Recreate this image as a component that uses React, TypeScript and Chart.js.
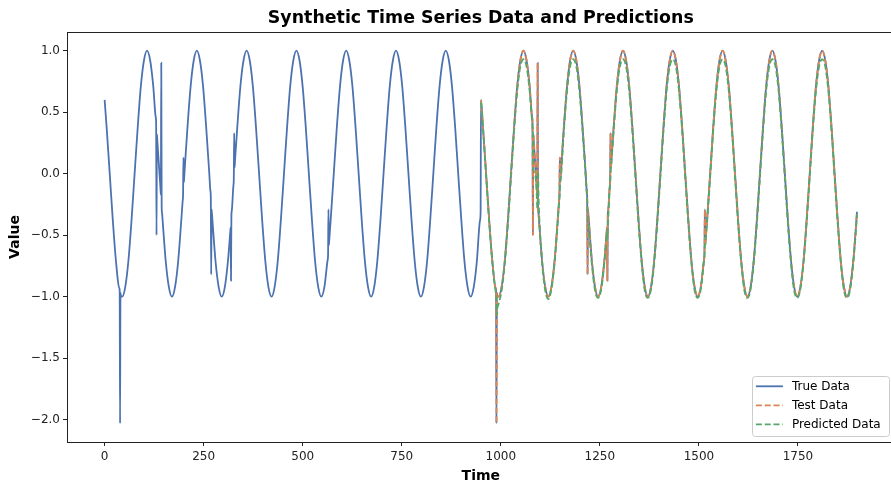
import React, { useEffect, useRef } from "react";
import { Chart, registerables } from "chart.js";

Chart.register(...registerables);

// ---- data ----
const chartTitle = "Synthetic Time Series Data and Predictions";
const xAxisLabel = "Time";
const yAxisLabel = "Value";
const seriesNames = ["True Data", "Test Data", "Predicted Data"];
const seriesColors = ["#4C72B0", "#DD8452", "#55A868"];
const xTickValues = [0, 250, 500, 750, 1000, 1250, 1500, 1750];
const yTickValues = [-2, -1.5, -1, -0.5, 0, 0.5, 1];

const trainTime = [
  0, 5.0, 12.9, 20.7, 28.6,
  37, 38, 39, 40, 41, 44.3,
  52.1, 60.0, 67.9, 75.7, 83.6, 91.4, 99.3, 107.1, 115.0, 122.8,
  129, 130, 131, 132, 133, 138.5,
  141, 142, 143, 144, 145, 146.4,
  154.2, 162.1, 170.0, 177.8, 185.7, 193.5,
  197, 198, 199, 200, 201,
  209.2, 217.1, 224.9, 232.8, 240.6, 248.5, 256.3, 264.2,
  267, 268, 269, 270, 271,
  279.9, 287.8, 295.6, 303.5, 311.3,
  317, 318, 319, 320, 321,
  325, 326, 327, 328, 329,
  334.9, 342.7, 350.6, 358.4, 366.3, 374.2, 382.0, 389.9,
  397.7, 405.6, 413.4, 421.3, 429.1, 437.0, 444.8, 452.7,
  460.6, 468.4, 476.3, 484.1, 492.0, 499.8, 507.7, 515.5,
  523.4, 531.2, 539.1, 546.9, 554.8,
  563, 564, 565, 566, 567, 570.5,
  578.4, 586.2, 594.1, 601.9, 609.8, 617.6, 625.5, 633.3,
  641.2, 649.0, 656.9, 664.8, 672.6, 680.5, 688.3, 696.2,
  704.0, 711.9, 719.7, 727.6, 735.4, 743.3, 751.2, 759.0,
  766.9, 774.7, 782.6, 790.4, 798.3, 806.1, 814.0, 821.8,
  829.7, 837.5, 845.4, 853.3, 861.1, 869.0, 876.8, 884.7,
  892.5, 900.4, 908.2, 916.1, 923.9, 931.8, 939.6, 947.5, 949,
];
const trainValue = [
  0.60, 0.38, 0.00, -0.38, -0.71,
  -0.93, -0.95, -2.03, -0.97, -0.99, -1.00,
  -0.92, -0.71, -0.38, 0.00, 0.38, 0.71, 0.92, 1.00, 0.92, 0.71,
  0.46, 0.41, -0.50, 0.32, 0.27, 0.00,
  -0.12, -0.17, 0.90, -0.27, -0.32, -0.38,
  -0.71, -0.92, -1.00, -0.92, -0.71, -0.38,
  -0.22, -0.17, 0.13, -0.07, -0.02,
  0.38, 0.71, 0.92, 1.00, 0.92, 0.71, 0.38, 0.00,
  -0.14, -0.19, -0.82, -0.29, -0.33,
  -0.71, -0.92, -1.00, -0.92, -0.71,
  -0.48, -0.44, -0.87, -0.34, -0.30,
  -0.10, -0.05, 0.33, 0.05, 0.10,
  0.38, 0.71, 0.92, 1.00, 0.92, 0.71, 0.38, 0.00,
  -0.38, -0.71, -0.92, -1.00, -0.92, -0.71, -0.38, 0.00,
  0.38, 0.71, 0.92, 1.00, 0.92, 0.71, 0.38, 0.00,
  -0.38, -0.71, -0.92, -1.00, -0.92,
  -0.70, -0.66, -0.29, -0.58, -0.54, -0.38,
  0.00, 0.38, 0.71, 0.92, 1.00, 0.92, 0.71, 0.38,
  0.00, -0.38, -0.71, -0.92, -1.00, -0.92, -0.71, -0.38,
  0.00, 0.38, 0.71, 0.92, 1.00, 0.92, 0.71, 0.38,
  0.00, -0.38, -0.71, -0.92, -1.00, -0.92, -0.71, -0.38,
  0.00, 0.38, 0.71, 0.92, 1.00, 0.92, 0.71, 0.38,
  0.00, -0.38, -0.71, -0.92, -1.00, -0.92, -0.71, -0.38, -0.31,
];

const testTime = [
  950, 955.0, 962.9, 970.7, 978.6,
  987, 988, 989, 990, 991, 994.3,
  1002.1, 1010.0, 1017.9, 1025.7, 1033.6, 1041.4, 1049.3, 1057.1, 1065.0, 1072.8,
  1079, 1080, 1081, 1082, 1083, 1088.5,
  1091, 1092, 1093, 1094, 1095, 1096.4,
  1104.2, 1112.1, 1120.0, 1127.8, 1135.7, 1143.5,
  1147, 1148, 1149, 1150, 1151,
  1159.2, 1167.1, 1174.9, 1182.8, 1190.6, 1198.5, 1206.3, 1214.2,
  1217, 1218, 1219, 1220, 1221,
  1229.9, 1237.8, 1245.6, 1253.5, 1261.3,
  1267, 1268, 1269, 1270, 1271,
  1275, 1276, 1277, 1278, 1279,
  1284.9, 1292.7, 1300.6, 1308.4, 1316.3, 1324.2, 1332.0, 1339.9,
  1347.7, 1355.6, 1363.4, 1371.3, 1379.1, 1387.0, 1394.8, 1402.7,
  1410.6, 1418.4, 1426.3, 1434.1, 1442.0, 1449.8, 1457.7, 1465.5,
  1473.4, 1481.2, 1489.1, 1496.9, 1504.8,
  1513, 1514, 1515, 1516, 1517, 1520.5,
  1528.4, 1536.2, 1544.1, 1551.9, 1559.8, 1567.6, 1575.5, 1583.3,
  1591.2, 1599.0, 1606.9, 1614.8, 1622.6, 1630.5, 1638.3, 1646.2,
  1654.0, 1661.9, 1669.7, 1677.6, 1685.4, 1693.3, 1701.2, 1709.0,
  1716.9, 1724.7, 1732.6, 1740.4, 1748.3, 1756.1, 1764.0, 1771.8,
  1779.7, 1787.5, 1795.4, 1803.3, 1811.1, 1819.0, 1826.8, 1834.7,
  1842.5, 1850.4, 1858.2, 1866.1, 1873.9, 1881.8, 1889.6, 1897.5, 1899,
];
const testValue = [
  0.60, 0.38, 0.00, -0.38, -0.71,
  -0.93, -0.95, -2.03, -0.97, -0.99, -1.00,
  -0.92, -0.71, -0.38, 0.00, 0.38, 0.71, 0.92, 1.00, 0.92, 0.71,
  0.46, 0.41, -0.50, 0.32, 0.27, 0.00,
  -0.12, -0.17, 0.90, -0.27, -0.32, -0.38,
  -0.71, -0.92, -1.00, -0.92, -0.71, -0.38,
  -0.22, -0.17, 0.13, -0.07, -0.02,
  0.38, 0.71, 0.92, 1.00, 0.92, 0.71, 0.38, 0.00,
  -0.14, -0.19, -0.82, -0.29, -0.33,
  -0.71, -0.92, -1.00, -0.92, -0.71,
  -0.48, -0.44, -0.87, -0.34, -0.30,
  -0.10, -0.05, 0.33, 0.05, 0.10,
  0.38, 0.71, 0.92, 1.00, 0.92, 0.71, 0.38, 0.00,
  -0.38, -0.71, -0.92, -1.00, -0.92, -0.71, -0.38, 0.00,
  0.38, 0.71, 0.92, 1.00, 0.92, 0.71, 0.38, 0.00,
  -0.38, -0.71, -0.92, -1.00, -0.92,
  -0.70, -0.66, -0.29, -0.58, -0.54, -0.38,
  0.00, 0.38, 0.71, 0.92, 1.00, 0.92, 0.71, 0.38,
  0.00, -0.38, -0.71, -0.92, -1.00, -0.92, -0.71, -0.38,
  0.00, 0.38, 0.71, 0.92, 1.00, 0.92, 0.71, 0.38,
  0.00, -0.38, -0.71, -0.92, -1.00, -0.92, -0.71, -0.38,
  0.00, 0.38, 0.71, 0.92, 1.00, 0.92, 0.71, 0.38,
  0.00, -0.38, -0.71, -0.92, -1.00, -0.92, -0.71, -0.38, -0.31,
];
const predictedValue = [
  0.58, 0.37, -0.02, -0.40, -0.72,
  -0.96, -0.98, -1.05, -1.15, -1.10, -1.06,
  -0.95, -0.73, -0.41, -0.03, 0.35, 0.67, 0.87, 0.93, 0.87, 0.67,
  0.42, 0.38, 0.30, 0.05, 0.02, -0.05,
  -0.20, -0.28, -0.20, 0.02, -0.15, -0.30,
  -0.72, -0.95, -1.02, -0.94, -0.73, -0.41,
  -0.24, -0.20, -0.15, -0.05, -0.04,
  0.35, 0.67, 0.87, 0.93, 0.87, 0.67, 0.35, -0.02,
  -0.17, -0.22, -0.28, -0.38, -0.41,
  -0.74, -0.95, -1.01, -0.94, -0.73,
  -0.52, -0.48, -0.52, -0.45, -0.38,
  -0.12, -0.08, -0.02, 0.05, 0.09,
  0.35, 0.67, 0.87, 0.93, 0.87, 0.67, 0.35, -0.03,
  -0.41, -0.73, -0.95, -1.01, -0.94, -0.73, -0.41, -0.03,
  0.35, 0.67, 0.87, 0.93, 0.87, 0.67, 0.35, -0.03,
  -0.41, -0.73, -0.95, -1.01, -0.94,
  -0.70, -0.66, -0.58, -0.55, -0.52, -0.40,
  -0.03, 0.35, 0.67, 0.87, 0.93, 0.87, 0.67, 0.35,
  -0.03, -0.41, -0.73, -0.95, -1.01, -0.94, -0.73, -0.41,
  -0.03, 0.35, 0.67, 0.87, 0.93, 0.87, 0.67, 0.35,
  -0.03, -0.41, -0.73, -0.95, -1.01, -0.94, -0.73, -0.41,
  -0.03, 0.35, 0.67, 0.87, 0.93, 0.87, 0.67, 0.35,
  -0.03, -0.41, -0.73, -0.95, -1.01, -0.94, -0.73, -0.41, -0.33,
];

const FONT = '"DejaVu Sans", sans-serif';
const DASH = [6, 2.8];

function toPoints(times: number[], values: number[]) {
  return times.map((t, i) => ({ x: t, y: values[i] }));
}

const decorPlugin = {
  id: "decor",
  afterDraw(chart: any) {
    const { ctx, chartArea: a } = chart;
    ctx.save();
    // spines
    ctx.strokeStyle = "#222";
    ctx.lineWidth = 1;
    const l = Math.round(a.left) + 0.5;
    const t = Math.round(a.top) + 0.5;
    ctx.strokeRect(l, t, Math.round(a.right) - Math.round(a.left), Math.round(a.bottom) - Math.round(a.top));
    // title and axis labels
    ctx.fillStyle = "#000";
    ctx.textAlign = "center";
    ctx.textBaseline = "middle";
    const cx = (a.left + a.right) / 2;
    ctx.font = `bold 17.4px ${FONT}`;
    ctx.fillText(chartTitle, cx, 18);
    ctx.font = `bold 14px ${FONT}`;
    ctx.fillText(xAxisLabel, cx, 476);
    ctx.save();
    ctx.translate(15, (a.top + a.bottom) / 2);
    ctx.rotate(-Math.PI / 2);
    ctx.fillText(yAxisLabel, 0, 0);
    ctx.restore();

    // legend (lower right, inside axes)
    const bw = 137;
    const bh = 60;
    const bx = a.right - 5.7 - bw;
    const by = a.bottom - 5.7 - bh;
    ctx.beginPath();
    ctx.roundRect(Math.round(bx) + 0.5, Math.round(by) + 0.5, bw, bh, 3);
    ctx.fillStyle = "rgba(255,255,255,0.8)";
    ctx.fill();
    ctx.strokeStyle = "#cccccc";
    ctx.lineWidth = 1;
    ctx.stroke();
    ctx.font = `12px ${FONT}`;
    ctx.textAlign = "left";
    ctx.textBaseline = "middle";
    seriesNames.forEach((name, i) => {
      const y = by + 10 + i * 19;
      ctx.beginPath();
      ctx.strokeStyle = seriesColors[i];
      ctx.lineWidth = 1.8;
      ctx.setLineDash(i === 0 ? [] : DASH);
      ctx.moveTo(bx + 4, y);
      ctx.lineTo(bx + 31, y);
      ctx.stroke();
      ctx.setLineDash([]);
      ctx.fillStyle = "#000";
      ctx.fillText(name, bx + 40, y + 0.5);
    });
    ctx.restore();
  },
};

export default function App() {
  const canvasRef = useRef<HTMLCanvasElement | null>(null);

  useEffect(() => {
    const canvas = canvasRef.current;
    if (!canvas) return;
    const allTime = [...trainTime, ...testTime];
    const allValue = [...trainValue, ...testValue];

    const common = {
      pointRadius: 0,
      borderWidth: 1.8,
      fill: false,
      tension: 0.4,
      cubicInterpolationMode: "monotone" as const,
    };

    const chart = new Chart(canvas, {
      type: "line",
      data: {
        datasets: [
          {
            ...common,
            label: seriesNames[0],
            data: toPoints(allTime, allValue),
            borderColor: seriesColors[0],
            order: 2,
          },
          {
            ...common,
            label: seriesNames[1],
            data: toPoints(testTime, testValue),
            borderColor: seriesColors[1],
            borderDash: DASH,
            order: 1,
          },
          {
            ...common,
            label: seriesNames[2],
            data: toPoints(testTime, predictedValue),
            borderColor: seriesColors[2],
            borderDash: DASH,
            order: 0,
          },
        ],
      },
      options: {
        responsive: false,
        animation: false,
        devicePixelRatio: 1,
        layout: { padding: { left: 0, top: 32, right: 5.4, bottom: 0 } },
        plugins: {
          legend: { display: false },
          tooltip: { enabled: false },
          title: { display: false },
        },
        scales: {
          x: {
            type: "linear",
            min: -94.95,
            max: 1993.95,
            afterFit: (s: any) => {
              s.height = 44;
            },
            afterBuildTicks: (s: any) => {
              s.ticks = xTickValues.map((v) => ({ value: v }));
            },
            grid: {
              display: true,
              drawOnChartArea: false,
              drawTicks: true,
              tickLength: 4,
              tickColor: "#222",
            },
            border: { display: false },
            ticks: {
              autoSkip: false,
              maxRotation: 0,
              padding: 4,
              color: "#222",
              font: { family: FONT, size: 12 },
              callback: (v: any) => String(v),
            },
          },
          y: {
            type: "linear",
            min: -2.1815,
            max: 1.1515,
            afterFit: (s: any) => {
              s.width = 67;
            },
            afterBuildTicks: (s: any) => {
              s.ticks = yTickValues.map((v) => ({ value: v }));
            },
            grid: {
              display: true,
              drawOnChartArea: false,
              drawTicks: true,
              tickLength: 4,
              tickColor: "#222",
            },
            border: { display: false },
            ticks: {
              autoSkip: false,
              padding: 3,
              color: "#222",
              font: { family: FONT, size: 12 },
              callback: (v: any) => {
                const n = Number(v);
                const s = Math.abs(n).toFixed(1);
                return n < 0 ? "\u2212" + s : s;
              },
            },
          },
        },
      },
      plugins: [decorPlugin],
    });

    return () => chart.destroy();
  }, []);

  return (
    <div
      style={{
        position: "fixed",
        left: 0,
        top: 0,
        width: 891,
        height: 486,
        overflow: "hidden",
        background: "#fff",
      }}
    >
      <canvas
        ref={canvasRef}
        width={900}
        height={486}
        style={{ display: "block", width: 900, height: 486 }}
      />
    </div>
  );
}
